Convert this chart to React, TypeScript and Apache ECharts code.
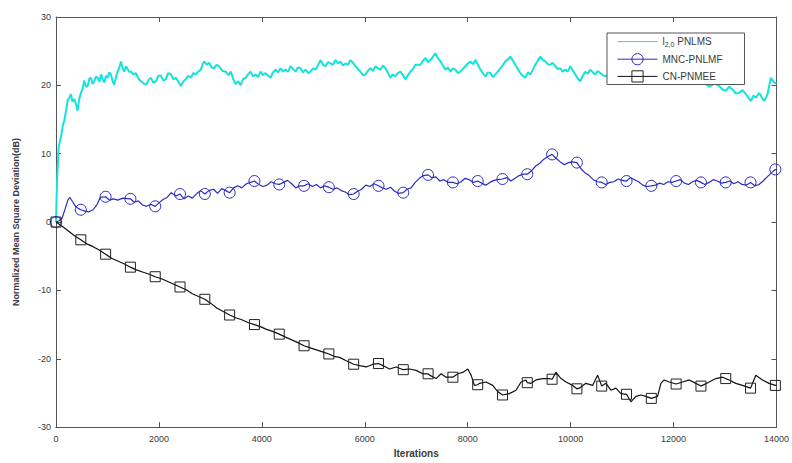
import React, { useEffect, useRef } from "react";
import * as echarts from "echarts";

const xTicks = [0, 2000, 4000, 6000, 8000, 10000, 12000, 14000];
const yTicks = [-30, -20, -10, 0, 10, 20, 30];
const seriesNames = ["l2,0 PNLMS", "MNC-PNLMF", "CN-PNMEE"];
const markerIters = [0, 482, 964, 1446, 1928, 2410, 2892, 3374, 3856, 4338, 4820, 5302, 5784, 6266, 6748, 7230, 7712, 8194, 8676, 9158, 9640, 10122, 10604, 11086, 11568, 12050, 12532, 13014, 13496, 13978];

const cyanData: [number, number][] = [
  [0, 0], [20, 6], [52, 11.0], [97, 12.5], [130, 14.0], [162, 14.9], [200, 16.5], [226, 17.8], [260, 18.2], [291, 18.7],
  [320, 17.6], [356, 18.0], [390, 17.2], [420, 16.3], [450, 18.0], [485, 18.9], [520, 19.6], [550, 20.7], [585, 19.8], [615, 19.9],
  [650, 21.0], [680, 21.1], [710, 20.2], [745, 20.6], [780, 21.3], [810, 21.1], [845, 20.5], [873, 21.6], [910, 20.8], [940, 20.4],
  [970, 21.4], [1000, 21.1], [1035, 21.9], [1068, 21.6], [1100, 20.6], [1130, 20.1], [1165, 21.2], [1197, 22.0], [1230, 22.6], [1262, 23.5],
  [1295, 22.5], [1326, 22.0], [1360, 22.8], [1390, 22.4], [1420, 22.0], [1456, 22.0], [1500, 21.6], [1553, 21.8], [1600, 21.0], [1650, 20.6],
  [1700, 20.3], [1747, 20.1], [1800, 20.8], [1844, 21.1], [1890, 20.4], [1941, 20.6], [1990, 21.4], [2038, 21.4], [2085, 20.7], [2135, 20.9],
  [2180, 21.8], [2232, 21.6], [2280, 20.9], [2330, 21.1], [2380, 20.5], [2426, 19.9], [2475, 20.6], [2523, 20.9], [2570, 21.4], [2620, 21.1],
  [2670, 21.8], [2717, 21.6], [2765, 22.0], [2814, 22.3], [2850, 23.1], [2879, 23.5], [2930, 23.0], [2976, 23.3], [3025, 22.6], [3073, 22.5],
  [3120, 23.0], [3170, 22.8], [3235, 22.1], [3300, 22.0], [3350, 21.5], [3397, 22.0], [3440, 21.0], [3490, 20.2], [3540, 20.6], [3587, 20.0],
  [3635, 20.9], [3684, 21.1], [3730, 21.6], [3781, 22.0], [3830, 21.3], [3878, 21.6], [3925, 21.2], [3975, 22.0], [4020, 21.5], [4072, 21.8],
  [4120, 21.4], [4169, 21.1], [4215, 21.9], [4266, 22.3], [4315, 21.9], [4363, 22.5], [4410, 22.0], [4460, 22.3], [4510, 22.0], [4558, 22.8],
  [4605, 22.4], [4655, 22.0], [4700, 22.6], [4752, 22.5], [4800, 21.9], [4849, 22.3], [4900, 21.8], [4946, 22.0], [4995, 22.5], [5043, 22.3],
  [5090, 22.9], [5140, 23.7], [5190, 23.0], [5237, 22.8], [5285, 23.4], [5334, 23.2], [5380, 23.0], [5431, 23.7], [5480, 23.2], [5528, 23.5],
  [5575, 22.9], [5625, 23.2], [5672, 23.0], [5722, 23.7], [5770, 23.3], [5819, 22.8], [5865, 22.4], [5916, 22.0], [5960, 21.5], [6013, 21.6],
  [6060, 22.1], [6110, 22.5], [6160, 22.1], [6207, 22.8], [6255, 22.5], [6304, 22.3], [6350, 22.9], [6402, 22.5], [6450, 21.8], [6499, 21.1],
  [6545, 21.6], [6595, 21.3], [6640, 21.8], [6692, 22.0], [6740, 21.5], [6790, 20.9], [6840, 21.5], [6887, 22.0], [6935, 22.4], [6984, 23.0],
  [7082, 23.0], [7130, 23.6], [7179, 24.0], [7230, 23.4], [7276, 23.7], [7325, 24.2], [7373, 24.7], [7420, 24.0], [7470, 23.5], [7520, 22.9],
  [7567, 22.3], [7615, 22.6], [7664, 22.0], [7710, 22.5], [7761, 22.3], [7810, 21.8], [7858, 22.0], [7905, 22.4], [7956, 22.8], [8005, 23.2],
  [8053, 23.5], [8100, 23.1], [8150, 23.7], [8200, 23.0], [8247, 22.3], [8295, 21.8], [8344, 21.3], [8390, 21.9], [8441, 21.8], [8490, 21.2],
  [8538, 21.6], [8585, 22.0], [8635, 22.5], [8685, 23.0], [8732, 23.5], [8780, 23.8], [8829, 24.2], [8880, 23.6], [8926, 23.0], [8975, 22.4],
  [9023, 21.8], [9070, 21.4], [9120, 21.1], [9170, 21.9], [9217, 21.6], [9265, 22.3], [9314, 23.0], [9360, 23.6], [9411, 24.2], [9460, 23.7],
  [9508, 23.5], [9555, 23.1], [9605, 23.0], [9650, 23.3], [9702, 22.8], [9750, 22.4], [9799, 22.5], [9845, 22.0], [9896, 22.3], [9945, 22.0],
  [9994, 22.8], [10040, 22.2], [10091, 21.6], [10140, 21.0], [10188, 20.6], [10235, 21.4], [10285, 22.0], [10335, 21.7], [10382, 22.3], [10430, 21.9],
  [10479, 21.6], [10525, 22.1], [10576, 21.8], [10625, 21.5], [10673, 21.3], [10770, 21.8], [10900, 21.0], [11050, 21.5], [11200, 20.8], [11350, 21.4],
  [11500, 20.6], [11650, 21.2], [11800, 20.5], [11950, 21.0], [12100, 20.3], [12250, 20.8], [12400, 20.2], [12550, 20.5], [12700, 19.8], [12800, 20.3],
  [12888, 19.9], [12950, 19.4], [13018, 19.2], [13080, 19.8], [13147, 19.4], [13210, 18.8], [13276, 18.9], [13340, 19.3], [13406, 18.7], [13455, 18.2],
  [13503, 17.7], [13550, 18.5], [13600, 18.2], [13665, 18.9], [13710, 18.3], [13762, 17.7], [13826, 18.7], [13860, 20.0], [13891, 21.1], [13956, 20.4],
  [14000, 20.3],
];

const blueData: [number, number][] = [
  [0, 0], [60, 0.2], [120, 0.6], [180, 2.0], [230, 3.2], [270, 3.6], [320, 3.0], [380, 2.3], [430, 2.0], [482, 1.8],
  [560, 1.6], [640, 1.5], [720, 1.8], [800, 2.6], [860, 3.6], [964, 3.7], [1040, 3.2], [1120, 3.4], [1200, 3.2], [1300, 3.5],
  [1446, 3.4], [1520, 2.9], [1600, 3.1], [1680, 2.5], [1760, 2.3], [1840, 2.6], [1928, 2.3], [2000, 2.8], [2080, 3.3], [2160, 3.6],
  [2240, 4.3], [2330, 3.8], [2410, 4.1], [2490, 3.4], [2570, 3.8], [2650, 3.5], [2740, 4.2], [2810, 4.6], [2892, 4.1], [2970, 4.6],
  [3060, 4.8], [3140, 4.2], [3220, 4.9], [3300, 4.6], [3374, 4.3], [3450, 5.0], [3530, 5.3], [3610, 5.0], [3700, 5.6], [3780, 5.8],
  [3856, 6.0], [3940, 5.5], [4020, 5.2], [4100, 5.4], [4180, 5.9], [4260, 5.6], [4338, 5.5], [4420, 5.8], [4500, 6.1], [4580, 5.6],
  [4660, 5.0], [4740, 5.3], [4820, 5.3], [4900, 5.6], [4980, 5.2], [5060, 5.5], [5140, 5.0], [5220, 5.3], [5302, 5.1], [5380, 4.8],
  [5460, 5.0], [5540, 4.6], [5620, 4.4], [5700, 4.0], [5784, 4.1], [5860, 4.5], [5940, 4.8], [6020, 5.4], [6100, 5.2], [6180, 5.6],
  [6266, 5.3], [6340, 5.0], [6420, 4.8], [6500, 5.1], [6580, 4.5], [6660, 4.2], [6748, 4.3], [6820, 4.8], [6900, 5.0], [6980, 5.8],
  [7060, 6.4], [7140, 6.8], [7230, 6.9], [7300, 6.5], [7380, 6.6], [7460, 6.0], [7540, 6.2], [7620, 5.8], [7712, 5.8], [7790, 5.6],
  [7870, 5.9], [7950, 6.4], [8030, 6.2], [8110, 5.8], [8194, 6.0], [8270, 5.7], [8350, 5.4], [8430, 5.8], [8510, 6.1], [8590, 6.2],
  [8676, 6.3], [8760, 6.5], [8840, 6.0], [8920, 6.4], [9000, 6.8], [9080, 7.0], [9158, 7.0], [9240, 7.5], [9320, 8.2], [9400, 8.6],
  [9480, 9.2], [9560, 9.6], [9640, 9.9], [9720, 9.3], [9800, 8.8], [9880, 8.4], [9960, 8.7], [10040, 8.8], [10122, 8.7], [10200, 7.8],
  [10280, 7.2], [10360, 6.8], [10440, 6.2], [10520, 5.9], [10604, 5.8], [10680, 5.5], [10760, 5.8], [10840, 5.9], [10920, 6.3], [11000, 6.1],
  [11086, 6.0], [11160, 6.5], [11240, 6.2], [11320, 5.9], [11400, 5.4], [11480, 5.2], [11568, 5.3], [11650, 5.4], [11730, 5.7], [11810, 5.5],
  [11890, 5.9], [11970, 5.8], [12050, 6.0], [12130, 6.2], [12210, 5.7], [12290, 5.5], [12370, 5.9], [12450, 6.1], [12532, 5.8], [12610, 5.5],
  [12690, 5.8], [12770, 6.2], [12850, 6.0], [12930, 5.7], [13014, 5.8], [13090, 6.0], [13170, 5.6], [13250, 5.9], [13330, 5.5], [13410, 5.4],
  [13496, 5.8], [13580, 5.3], [13660, 5.5], [13740, 6.0], [13820, 6.6], [13900, 7.2], [13978, 7.7], [14000, 7.6],
];

const blackData: [number, number][] = [
  [0, 0], [120, -0.6], [240, -1.3], [360, -2.0], [482, -2.6], [600, -3.2], [720, -3.6], [840, -4.1], [964, -4.7], [1080, -5.3],
  [1200, -5.7], [1320, -6.1], [1446, -6.6], [1560, -7.0], [1680, -7.3], [1800, -7.6], [1928, -8.0], [2050, -8.3], [2170, -8.7], [2290, -9.1],
  [2410, -9.5], [2530, -9.9], [2650, -10.5], [2770, -10.9], [2892, -11.3], [3010, -11.9], [3130, -12.6], [3250, -13.1], [3374, -13.6], [3490, -14.0],
  [3610, -14.3], [3730, -14.7], [3856, -15.0], [3970, -15.3], [4090, -15.7], [4210, -16.0], [4338, -16.4], [4450, -16.8], [4570, -17.2], [4690, -17.6],
  [4820, -18.1], [4940, -18.4], [5060, -18.7], [5180, -19.0], [5302, -19.3], [5420, -19.7], [5510, -19.8], [5639, -20.3], [5784, -20.8], [5898, -21.0],
  [6028, -21.2], [6157, -20.8], [6266, -20.7], [6351, -21.0], [6481, -21.5], [6610, -21.2], [6748, -21.6], [6869, -21.5], [6998, -21.7], [7128, -22.2],
  [7230, -22.2], [7257, -22.4], [7386, -22.9], [7483, -22.2], [7580, -22.7], [7712, -22.7], [7807, -22.2], [7904, -22.0], [8001, -21.5], [8066, -22.4],
  [8130, -23.9], [8194, -23.8], [8227, -23.6], [8357, -23.4], [8486, -23.9], [8583, -24.8], [8676, -25.3], [8810, -25.1], [8939, -24.6], [9036, -23.4],
  [9133, -23.1], [9158, -23.5], [9230, -23.6], [9327, -23.1], [9457, -22.9], [9586, -22.9], [9640, -23.0], [9716, -22.0], [9813, -22.9], [9910, -23.4],
  [10039, -23.9], [10122, -24.4], [10168, -24.3], [10298, -23.6], [10427, -23.9], [10524, -22.4], [10604, -24.0], [10686, -23.6], [10783, -24.6], [10880, -24.3],
  [10977, -25.1], [11086, -25.2], [11171, -26.3], [11268, -25.5], [11365, -25.3], [11462, -25.5], [11568, -25.8], [11689, -25.5], [11754, -23.6], [11818, -23.1],
  [11915, -23.4], [12050, -23.7], [12174, -23.4], [12304, -23.1], [12433, -23.6], [12532, -24.0], [12562, -23.9], [12692, -23.4], [12821, -22.9], [12951, -22.7],
  [13014, -22.9], [13080, -23.1], [13209, -23.6], [13339, -23.9], [13496, -24.3], [13598, -22.4], [13727, -23.1], [13856, -23.6], [13978, -23.9], [14000, -23.9],
];

const CYAN = "#14e3dc";
const BLUE = "#2a2ac4";
const BLACK = "#111111";
const AXIS = "#555555";
const TEXT = "#3a3a3a";
const FONT = "Liberation Sans, Arial, sans-serif";

function withMarkers(data: [number, number][], symbol: string, size: number) {
  const set = new Set(markerIters);
  return data.map(([x, y]) =>
    set.has(x) ? { value: [x, y], symbol, symbolSize: size } : { value: [x, y], symbol: "none" }
  );
}

export default function App() {
  const ref = useRef<HTMLDivElement>(null);
  useEffect(() => {
    if (!ref.current) return;
    const chart = echarts.init(ref.current, undefined, { renderer: "svg" });
    const axisCommon = {
      type: "value" as const,
      axisLine: { show: true, onZero: false, lineStyle: { color: AXIS, width: 1 } },
      axisTick: { show: true, inside: true, length: 5, lineStyle: { color: AXIS } },
      splitLine: { show: false },
    };
    chart.setOption({
      animation: false,
      backgroundColor: "#ffffff",
      grid: { left: 56, right: 15, top: 17, bottom: 28, containLabel: false },
      legend: {
        orient: "vertical",
        left: 607,
        top: 33,
        backgroundColor: "#ffffff",
        borderColor: "#555555",
        borderWidth: 1,
        borderRadius: 0,
        padding: [3, 22, 2, 10],
        itemGap: 5,
        itemWidth: 40,
        itemHeight: 14,
        lineStyle: { width: 1 },
        data: [
          { name: seriesNames[0], itemStyle: { color: "rgba(0,0,0,0)", borderWidth: 0 } },
          { name: seriesNames[1], itemStyle: { borderWidth: 1 } },
          { name: seriesNames[2], itemStyle: { borderWidth: 1 } },
        ],
        textStyle: {
          color: TEXT,
          fontSize: 10,
          fontFamily: FONT,
          rich: {
            sub: { fontSize: 7, verticalAlign: "bottom", padding: [6, 0, 0, 0], color: TEXT },
          },
        },
        formatter: (name: string) => (name === seriesNames[0] ? "l{sub|2,0} PNLMS" : name),
      },
      xAxis: [
        {
          ...axisCommon,
          min: 0,
          max: 14000,
          interval: 2000,
          position: "bottom",
          name: "Iterations",
          nameLocation: "middle",
          nameGap: 18,
          nameTextStyle: { color: TEXT, fontSize: 10, fontWeight: "bold", fontFamily: FONT },
          axisLabel: { color: TEXT, fontSize: 9, margin: 7, fontFamily: FONT, formatter: (v: number) => String(v) },
        },
        {
          ...axisCommon,
          min: 0,
          max: 14000,
          interval: 2000,
          position: "top",
          axisLabel: { show: false },
        },
      ],
      yAxis: [
        {
          ...axisCommon,
          min: -30,
          max: 30,
          interval: 10,
          position: "left",
          name: "Normalized Mean Square Deviation(dB)",
          nameLocation: "middle",
          nameGap: 36,
          nameRotate: 90,
          nameTextStyle: { color: TEXT, fontSize: 9, fontWeight: "bold", fontFamily: FONT },
          axisLabel: { color: TEXT, fontSize: 9, margin: 5, fontFamily: FONT, formatter: (v: number) => String(v) },
        },
        {
          ...axisCommon,
          min: -30,
          max: 30,
          interval: 10,
          position: "right",
          axisLabel: { show: false },
        },
      ],
      series: [
        {
          name: seriesNames[0],
          type: "line",
          data: cyanData,
          symbol: "none",
          lineStyle: { color: CYAN, width: 2 },
          itemStyle: { color: CYAN },
          z: 2,
        },
        {
          name: seriesNames[1],
          type: "line",
          data: withMarkers(blueData, "circle", 11),
          symbol: "circle",
          symbolSize: 11,
          showSymbol: true,
          showAllSymbol: true,
          lineStyle: { color: BLUE, width: 1.2 },
          itemStyle: { color: "rgba(255,255,255,0)", borderColor: BLUE, borderWidth: 1 },
          z: 3,
        },
        {
          name: seriesNames[2],
          type: "line",
          data: withMarkers(blackData, "rect", 10),
          symbol: "rect",
          symbolSize: 10,
          showSymbol: true,
          showAllSymbol: true,
          lineStyle: { color: BLACK, width: 1.2 },
          itemStyle: { color: "rgba(255,255,255,0)", borderColor: "#222222", borderWidth: 1 },
          z: 3,
        },
      ],
    });
    return () => chart.dispose();
  }, []);
  return (
    <div
      ref={ref}
      style={{ position: "fixed", left: 0, top: 0, width: 792, height: 463, background: "#fff" }}
    />
  );
}
